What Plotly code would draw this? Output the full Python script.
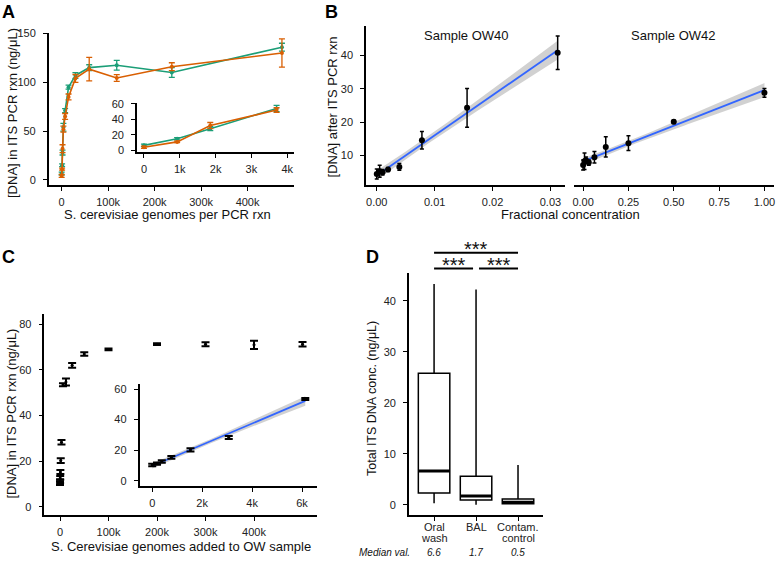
import numpy as np
import plotly.graph_objects as go

W, H = 777, 563
FONT = "Liberation Sans, Arial, sans-serif"

# ---------------- data ----------------
# Panel A: S. cerevisiae genomes per PCR rxn (two replicate series)
a_genomes = [0, 926, 1852, 3703, 7406, 14812, 29625, 59250, 118500, 237000, 474000]
a_green = [6.5, 15, 28, 54, 71, 95, 107, 115, 117.5, 110, 136]
a_green_err = [1.5, 1.5, 2.5, 4, 2, 2, 3, 3, 5, 5, 4]
a_orange = [4, 11, 32, 52, 65, 85, 104, 113.5, 104.4, 116, 130]
a_orange_err = [1.5, 1, 4, 3, 3, 3, 4, 12, 3.5, 4, 14.5]
a_inset_n = 4
a_xticks = [0, 100000, 200000, 300000, 400000]
a_xticktext = ["0", "100k", "200k", "300k", "400k"]
a_yticks = [0, 50, 100, 150]
a_in_xticks = [0, 1000, 2000, 3000, 4000]
a_in_xticktext = ["0", "1k", "2k", "3k", "4k"]
a_in_yticks = [0, 20, 40, 60]

# Panel B: fractional concentration
b40_x = [0, 0.0005, 0.001, 0.00195, 0.0039, 0.0078, 0.0156, 0.03125]
b40_y = [4.5, 5.3, 5.0, 5.8, 6.6, 14.6, 24.3, 40.8]
b40_err = [1.5, 1.8, 0.8, 0.6, 1.0, 2.6, 5.8, 5.0]
b42_x = [0, 0.0078, 0.0156, 0.03125, 0.0625, 0.125, 0.25, 0.5, 1.0]
b42_y = [7.2, 8.3, 8.6, 7.9, 9.5, 12.6, 13.7, 20.1, 28.8]
b42_err = [1.5, 2.5, 1.0, 0.8, 1.7, 3.0, 2.2, 0.5, 1.3]
b_yticks = [10, 20, 30, 40]
b40_xticks = [0, 0.01, 0.02, 0.03]
b40_xticktext = ["0.00", "0.01", "0.02", "0.03"]
b42_xticks = [0, 0.25, 0.5, 0.75, 1.0]
b42_xticktext = ["0.00", "0.25", "0.50", "0.75", "1.00"]
b_titles = ["Sample OW40", "Sample OW42"]

# Panel C: genomes added to OW sample
c_genomes = [0, 192, 383, 766, 1532, 3065, 6130, 12260, 25000, 50000, 100000,
             200000, 300000, 400000, 500000]
c_dna = [10.3, 11.2, 12.6, 15.2, 20.2, 28.3, 53.5, 54.7, 62.0, 67.0, 69.0,
         71.3, 71.3, 71.0, 71.3]
c_err = [0.8, 0.8, 0.8, 0.9, 1.0, 1.0, 0.7, 1.5, 1.0, 0.8, 0.4, 0.4, 0.9, 1.8, 1.0]
c_inset_n = 7
c_xticks = [0, 100000, 200000, 300000, 400000]
c_xticktext = ["0", "100k", "200k", "300k", "400k"]
c_yticks = [0, 20, 40, 60, 80]
c_in_xticks = [0, 2000, 4000, 6000]
c_in_xticktext = ["0", "2k", "4k", "6k"]
c_in_yticks = [0, 20, 40, 60]

# Panel D: box plot summary
d_cats = ["Oral<br>wash", "BAL", "Contam.<br>control"]
d_lower = [0.3, 0.0, 0.1]
d_q1 = [2.3, 0.9, 0.2]
d_median = [6.6, 1.7, 0.5]
d_q3 = [25.8, 5.6, 1.1]
d_upper = [43.3, 42.2, 7.8]
d_median_text = ["6.6", "1.7", "0.5"]
d_yticks = [0, 10, 20, 30, 40]
d_sig = [(0, 2, "***"), (0, 1, "***"), (1, 2, "***")]

GREEN = "#1b9e77"
ORANGE = "#d95f02"
BLUE = "#3366FF"
BAND = "rgba(153,153,153,0.45)"


# ---------------- helpers ----------------
def dom_x(x0, x1):
    return [x0 / W, x1 / W]


def dom_y(y0, y1):
    return [1 - y1 / H, 1 - y0 / H]


def px(x):
    return x / W


def py(y):
    return 1 - y / H


def fit_band(x, y, t, n_pts=60):
    x = np.asarray(x, float)
    y = np.asarray(y, float)
    b, a = np.polyfit(x, y, 1)
    n = len(x)
    resid = y - (a + b * x)
    s = np.sqrt(np.sum(resid ** 2) / (n - 2))
    xm = x.mean()
    sxx = np.sum((x - xm) ** 2)
    xs = np.linspace(x.min(), x.max(), n_pts)
    yf = a + b * xs
    se = s * np.sqrt(1 / n + (xs - xm) ** 2 / sxx)
    return xs, yf, yf - t * se, yf + t * se


def axis(domain, rng, tickvals, ticktext=None, anchor=None, showline=True,
         showticks=True, showlabels=True, standoff=2):
    d = dict(domain=domain, range=rng, tickmode="array", tickvals=tickvals,
             showline=showline, linecolor="black", linewidth=1.6,
             ticks="outside" if showticks else "", ticklen=4, tickwidth=1.3,
             tickcolor="black", showgrid=False, zeroline=False,
             showticklabels=showlabels,
             tickfont=dict(size=11, color="#222", family=FONT),
             anchor=anchor, fixedrange=True, ticklabelstandoff=standoff,
             ticklabeloverflow="allow")
    if ticktext is not None:
        d["ticktext"] = ticktext
    return d


fig = go.Figure()


def add_band(xs, lo, hi, xa, ya):
    fig.add_trace(go.Scatter(x=np.concatenate([xs, xs[::-1]]),
                             y=np.concatenate([lo, hi[::-1]]),
                             fill="toself", fillcolor=BAND, line=dict(width=0),
                             mode="lines", hoverinfo="skip", showlegend=False,
                             xaxis=xa, yaxis=ya))


def add_line(xs, yf, xa, ya):
    fig.add_trace(go.Scatter(x=xs, y=yf, mode="lines",
                             line=dict(color=BLUE, width=1.8),
                             showlegend=False, xaxis=xa, yaxis=ya))


def add_pts(x, y, err, xa, ya, color="black", mode="markers", size=5,
            cap=2, thick=1.5):
    fig.add_trace(go.Scatter(x=x, y=y, mode=mode,
                             marker=dict(color=color, size=size),
                             line=dict(color=color, width=1.6),
                             error_y=dict(type="data", array=err, color=color,
                                          thickness=thick, width=cap),
                             showlegend=False, xaxis=xa, yaxis=ya))


# ---------------- Panel A ----------------
for ys, es, col in [(a_green, a_green_err, GREEN), (a_orange, a_orange_err, ORANGE)]:
    add_pts(a_genomes, ys, es, "x", "y", color=col, mode="lines+markers",
            size=4, cap=3, thick=1.3)
for ys, es, col in [(a_green, a_green_err, GREEN), (a_orange, a_orange_err, ORANGE)]:
    add_pts(a_genomes[:a_inset_n], ys[:a_inset_n], es[:a_inset_n], "x2", "y2",
            color=col, mode="lines+markers", size=4, cap=3, thick=1.3)

# ---------------- Panel B ----------------
xs, yf, lo, hi = fit_band(b40_x, b40_y, 2.447)
add_band(xs, lo, hi, "x3", "y3")
add_line(xs, yf, "x3", "y3")
add_pts(b40_x, b40_y, b40_err, "x3", "y3", size=6, cap=2)

xs, yf, lo, hi = fit_band(b42_x, b42_y, 2.365)
add_band(xs, lo, hi, "x4", "y4")
add_line(xs, yf, "x4", "y4")
add_pts(b42_x, b42_y, b42_err, "x4", "y4", size=6, cap=2)

# ---------------- Panel C ----------------
add_pts(c_genomes, c_dna, c_err, "x5", "y5", size=3, cap=4, thick=2)
xs, yf, lo, hi = fit_band(c_genomes[:c_inset_n], c_dna[:c_inset_n], 2.571)
add_band(xs, lo, hi, "x6", "y6")
add_line(xs, yf, "x6", "y6")
add_pts(c_genomes[:c_inset_n], c_dna[:c_inset_n], c_err[:c_inset_n], "x6", "y6",
        size=3, cap=4, thick=2)

# ---------------- Panel D ----------------
d_pos = list(range(len(d_cats)))
fig.add_trace(go.Box(x=d_pos, q1=d_q1, median=d_median, q3=d_q3,
                     lowerfence=d_lower, upperfence=d_upper, width=0.75,
                     boxpoints=False, fillcolor="white",
                     line=dict(color="black", width=1.5), whiskerwidth=0,
                     showlegend=False, xaxis="x7", yaxis="y7"))
mx, my = [], []
for p, m in zip(d_pos, d_median):
    mx += [p - 0.375, p + 0.375, None]
    my += [m, m, None]
fig.add_trace(go.Scatter(x=mx, y=my, mode="lines", line=dict(color="black", width=3),
                         showlegend=False, xaxis="x7", yaxis="y7"))

# ---------------- axes ----------------
YS = 5  # y tick label standoff
layout_axes = dict(
    xaxis=axis(dom_x(47, 294), [-27800, 501000], a_xticks, a_xticktext, "y"),
    yaxis=axis(dom_y(27, 182), [-5, 151], a_yticks, None, "x", standoff=YS),
    xaxis2=axis(dom_x(135.7, 294), [-194, 4203], a_in_xticks, a_in_xticktext, "y2"),
    yaxis2=axis(dom_y(99, 149), [-2.5, 60.8], a_in_yticks, None, "x2", standoff=YS),
    xaxis3=axis(dom_x(366, 566), [-0.00184, 0.03253], b40_xticks, b40_xticktext, "y3"),
    yaxis3=axis(dom_y(20.7, 182), [1.26, 48.7], b_yticks, None, "x3", standoff=YS),
    xaxis4=axis(dom_x(575, 775.5), [-0.05, 1.05], b42_xticks, b42_xticktext, "y4"),
    yaxis4=axis(dom_y(20.7, 182), [1.26, 48.7], b_yticks, None, "x4",
                showline=False, showticks=False, showlabels=False),
    xaxis5=axis(dom_x(42.7, 316.7), [-32000, 530000], c_xticks, c_xticktext, "y5"),
    yaxis5=axis(dom_y(313.3, 518.7), [-3.88, 84.66], c_yticks, None, "x5", standoff=YS),
    xaxis6=axis(dom_x(138.3, 316.7), [-506, 6602], c_in_xticks, c_in_xticktext, "y6"),
    yaxis6=axis(dom_y(385, 488.7), [-3.47, 63.2], c_in_yticks, None, "x6", standoff=YS),
    xaxis7=axis(dom_x(409, 544), [-0.6, 2.6], d_pos, None, "y7", showlabels=False),
    yaxis7=axis(dom_y(271.7, 518.7), [-2.12, 45.47], d_yticks, None, "x7", standoff=YS),
)

# ---------------- annotations ----------------
ann = []


def text(x, y, s, size=13, angle=0, xanchor="center", yanchor="middle",
         bold=False, italic=False, color="#111"):
    if bold:
        s = "<b>" + s + "</b>"
    if italic:
        s = "<i>" + s + "</i>"
    ann.append(dict(x=px(x), y=py(y), xref="paper", yref="paper", text=s,
                    showarrow=False, textangle=angle, xanchor=xanchor,
                    yanchor=yanchor, font=dict(size=size, family=FONT, color=color)))


text(6.5, 6, "A", size=18, bold=True, color="black")
text(331.5, 6, "B", size=18, bold=True, color="black")
text(6.5, 256, "C", size=18, bold=True, color="black")
text(372, 256, "D", size=18, bold=True, color="black")

text(10, 109, "[DNA] in ITS PCR rxn (ng/μL)", angle=-90)
text(166.5, 212, "S. cerevisiae genomes per PCR rxn")
text(332, 103, "[DNA] after ITS PCR rxn", angle=-90)
text(571.7, 212, "Fractional concentration")
text(467, 30, b_titles[0])
text(675, 30, b_titles[1])
text(10, 415, "[DNA] in ITS PCR rxn (ng/μL)", angle=-90)
text(180, 550, "S. Cerevisiae genomes added to OW sample")
text(372, 400, "Total ITS DNA conc. (ng/μL)", angle=-90, size=12.5)

# D: category labels, median values and significance brackets
d_x0, d_x1, d_r0, d_r1 = 409, 544, -0.6, 2.6


def cat_px(c):
    return d_x0 + (c - d_r0) / (d_r1 - d_r0) * (d_x1 - d_x0)


for p, lab in zip(d_pos, d_cats):
    lines = lab.split("<br>")
    text(cat_px(p), 530, lines[0], size=11, color="#222")
    if len(lines) > 1:
        text(cat_px(p), 542, lines[1], size=11, color="#222")

text(412, 556, "Median val.", size=10, italic=True, xanchor="right")
for p, t in zip(d_pos, d_median_text):
    text(cat_px(p), 556, t, size=10, italic=True)

shapes = []
for i, j, lab in d_sig:
    xa, xb = cat_px(i), cat_px(j)
    if j - i > 1:
        yb = 251.3
    else:
        yb = 267.3
        if i == 1:
            xa += 3
        else:
            xb -= 3
    shapes.append(dict(type="line", xref="paper", yref="paper",
                       x0=px(xa), x1=px(xb), y0=py(yb), y1=py(yb),
                       line=dict(color="black", width=2)))
    text((xa + xb) / 2, yb - 3.5, lab, size=20, yanchor="middle")

fig.update_layout(width=W, height=H, autosize=False,
                  margin=dict(l=0, r=0, t=0, b=0),
                  paper_bgcolor="white", plot_bgcolor="rgba(0,0,0,0)",
                  showlegend=False, annotations=ann, shapes=shapes,
                  font=dict(family=FONT), **layout_axes)

fig.write_html("out.html",
               config={"displayModeBar": False},
               post_script="document.body.style.margin='0px';"
                           "document.body.style.overflow='hidden';")
